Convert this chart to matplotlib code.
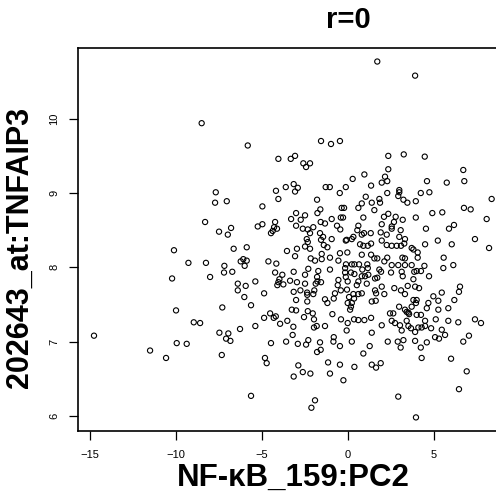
import matplotlib
matplotlib.use("Agg")
import matplotlib.pyplot as plt

# NF-kB_159:PC2 scores
pc2 = [
    1.70, 3.90, -8.51, -5.83, -1.57, -0.99, -0.47, -4.05, -3.33, -3.08,
    -2.60, -2.21, -2.44, 0.27, -7.69, -3.62, -3.16, -2.92, -3.08, -4.19,
    -1.30, -1.06, -0.48, -0.13, -7.73, -7.05, -4.05, -1.80, -4.98, -0.37,
    -0.23, -1.61, -1.78, -8.31, -3.02, -2.50, -3.31, -2.75, -0.42, -0.29,
    -4.24, -4.30, -4.38, -4.13, -4.48, -5.25, -4.98, -7.50, -6.99, -6.80,
    -1.59, -1.34, -0.95, -3.02, -2.63, -2.34, -2.02, -2.21, -1.63, -0.64,
    -0.45, -2.40, -2.34, -1.57, -0.95, -1.45, -0.13, 0.22,
    2.34, 3.24, 4.46, 6.70, 2.34, 0.95, 2.15, 1.96, 2.28, 4.59, 5.74, 6.76, 1.34,
    2.98, 2.98, 2.28, 4.23, 4.73, 2.92, 1.03, 3.22, 3.45, 3.94,
    8.35, 0.80, 0.60, 1.38, 1.82, 1.86, 1.53, 6.74, 7.13, 4.90,
    5.48, 2.34, 2.09, 2.77, 3.18, 0.89, 3.94, 8.06, 2.67, 1.96,
    0.60, 0.54, 2.54, 2.54, 4.53, 5.87, 6.16, 3.06, 0.93, 1.32,
    0.80, 1.90, 2.25, 2.98, 3.31, 0.31, -0.08, 1.96, 7.38, 4.48, 5.22, 6.03,
    -10.12, -9.28, -10.23, -10.00, -8.97, -8.60, -14.77, -9.96, -9.38,
    -6.65, -5.89, -3.55, -2.97, -2.50, -2.21, -1.41, -1.20,
    -8.26, -8.02, -7.19, -7.21, -6.73, -6.24, -6.09, -5.89, -6.01, -4.63,
    -4.17, -3.08, -2.17, -1.92, -1.53, -1.53, -1.05, -0.47, -0.04, -0.56,
    -0.12, -1.05, -1.73, -2.31, -3.16, -4.24, -3.82, -2.50, -1.80, -1.57,
    -3.99, -4.05, -3.76, -4.11, -3.37, -2.97, -2.50, -1.88, -1.78, -5.39,
    -6.41, -6.41, -5.95, -0.56, -0.13, 0.17, -0.60, -0.42, -0.06, -2.77,
    -3.16, -2.38, -2.37, -1.96, -2.02, -4.88, -6.03, -0.76, -0.83, -1.34,
    -1.20, 0.06, 0.35, 0.22, -3.02, -2.37, -5.64, -7.31, -3.27, -3.02,
    -2.34, -2.05, -2.56, -1.98, -0.91, 0.12, 0.35, -4.53, -4.88, -4.32,
    -4.20, -3.53, -3.95, -0.41, -0.02, -5.39, -3.18, -1.98, -1.82, -1.34,
    -6.28, -7.48, -6.96, -3.22, -7.09, -6.84, -0.83, -0.08, -4.48, -3.60,
    -2.92, -2.31, -1.63, -0.85, 0.22,
    0.70, 0.89, 1.15, 1.34, 2.25, 2.54, 2.83, 3.08, 3.27, 3.70, 3.80,
    8.20, 0.80, 1.34, 1.53, 1.70, 2.28, 3.16, 3.31, 4.05, 4.05, 5.56,
    0.22, 0.37, 0.64, 1.12, 2.11, 2.54, 2.92, 3.31, 3.70, 4.44, 5.54, 6.12,
    -0.17, 0.83, 1.15, 1.82, 1.92, 2.50, 3.12, 3.85, 3.99, 4.24, -0.17,
    0.37, 0.80, 0.99, 1.18, 1.57, 1.70, 3.18, 3.80, 4.71,
    -0.02, 0.60, 1.09, 0.51, 3.47, 3.90, 4.13, 1.96, 6.51,
    0.31, 0.60, 0.80, 1.57, 1.63, 2.11, 2.69, 3.08, 3.31, 6.45, 5.45,
    -0.02, 1.38, 1.61, 3.80, 3.99, 3.95, 4.96, 5.25, 4.67, 6.18, 0.17,
    2.97, 3.31, 3.51, 3.70, 4.58, 5.25, 5.83, 2.44, 2.63, 3.41, 3.55, 3.99, 4.24,
    0.60, 0.95, 1.34, 1.96, 2.54, 2.73, 3.41, 4.48, 5.10, 5.83, 6.41, 7.38, 7.73,
    3.02, 3.51, 3.66, 4.09, 4.28, 4.48, 4.83, 1.38, 3.12, 3.90, 5.45,
    2.31, 2.89, 3.22, 3.90, 4.58, 5.06, 5.29, 5.64, 6.70, 7.03,
    -11.51, -10.58, -7.34, -2.44, -1.80, -1.59, -0.47, -4.83, -4.73,
    -2.89, -3.16, -2.63, -2.19, -1.16, -0.47, 0.37, -1.05, -0.27, -5.64, -1.92, -2.13,
    1.26, 3.06, 4.23, 0.89, 1.38, 1.63, 1.90, 4.28, 5.99, 6.90, 6.45, 2.92, 3.95,
]

# 202643_at:TNFAIP3 expression
tnfaip3 = [
    10.77, 10.58, 9.94, 9.64, 9.70, 9.66, 9.70, 9.46, 9.46, 9.50,
    9.40, 9.40, 9.35, 9.19, 9.01, 9.08, 9.12, 9.07, 9.02, 9.03,
    9.08, 9.08, 9.00, 9.08, 8.87, 8.89, 8.92, 8.91, 8.82, 8.80,
    8.80, 8.78, 8.73, 8.61, 8.73, 8.70, 8.65, 8.64, 8.67, 8.67,
    8.61, 8.54, 8.49, 8.52, 8.46, 8.55, 8.58, 8.48, 8.44, 8.53,
    8.61, 8.59, 8.65, 8.56, 8.52, 8.51, 8.54, 8.46, 8.46, 8.56,
    8.51, 8.38, 8.34, 8.37, 8.38, 8.41, 8.36, 8.38,
    9.50, 9.52, 9.49, 9.31, 9.32, 9.25, 9.22, 9.14, 9.16, 9.16, 9.14, 9.16, 9.10,
    9.04, 9.01, 9.00, 9.00, 9.01, 8.96, 8.95, 8.91, 8.87, 8.89,
    8.92, 8.86, 8.80, 8.87, 8.92, 8.87, 8.77, 8.80, 8.78, 8.73,
    8.74, 8.72, 8.68, 8.68, 8.64, 8.67, 8.67, 8.65, 8.61, 8.58,
    8.56, 8.50, 8.55, 8.52, 8.52, 8.52, 8.57, 8.50, 8.46, 8.46,
    8.44, 8.47, 8.44, 8.41, 8.38, 8.41, 8.37, 8.36, 8.38, 8.31, 8.36, 8.31,
    8.23, 8.06, 7.85, 7.42, 7.26, 7.25, 7.08, 6.98, 6.97,
    8.25, 8.27, 8.22, 8.25, 8.28, 8.25, 8.30, 8.27,
    8.06, 7.87, 8.02, 7.93, 7.94, 8.08, 8.11, 8.09, 8.02, 8.08,
    8.05, 8.15, 8.12, 8.09, 8.18, 8.11, 8.13, 8.19, 8.20, 8.09,
    8.04, 7.97, 7.95, 7.98, 7.94, 7.93, 7.90, 7.90, 7.87, 7.80,
    7.84, 7.80, 7.77, 7.76, 7.82, 7.80, 7.78, 7.78, 7.81, 7.81,
    7.78, 7.69, 7.75, 7.83, 7.87, 7.93, 7.76, 7.69, 7.70, 7.69,
    7.67, 7.66, 7.63, 7.69, 7.64, 7.65, 7.60, 7.65, 7.58, 7.57,
    7.52, 7.60, 7.58, 7.52, 7.56, 7.54, 7.49, 7.46, 7.43, 7.42,
    7.41, 7.38, 7.33, 7.30, 7.37, 7.43, 7.30, 7.38, 7.32, 7.32,
    7.34, 7.28, 7.24, 7.30, 7.25, 7.21, 7.20, 7.19, 7.21, 7.21,
    7.17, 7.12, 7.11, 7.09, 7.04, 7.01, 7.06, 7.15, 6.98, 7.00,
    6.97, 7.02, 6.99, 7.00, 7.00,
    8.31, 8.29, 8.29, 8.32, 8.30, 8.29, 8.29, 8.29, 8.32, 8.26, 8.24,
    8.26, 8.17, 8.17, 8.12, 8.12, 8.13, 8.13, 8.12, 8.20, 8.13, 8.13,
    8.04, 8.04, 8.04, 8.04, 8.08, 8.03, 8.03, 8.03, 8.03, 8.02, 7.99, 8.03,
    7.99, 7.97, 7.99, 7.97, 7.94, 7.93, 7.94, 7.94, 7.95, 7.95, 7.93,
    7.91, 7.88, 7.88, 7.90, 7.85, 7.86, 7.88, 7.84, 7.88,
    7.81, 7.81, 7.78, 7.76, 7.75, 7.74, 7.72, 7.74, 7.74,
    7.64, 7.64, 7.65, 7.69, 7.65, 7.64, 7.72, 7.69, 7.64, 7.67, 7.66,
    7.52, 7.54, 7.55, 7.56, 7.56, 7.52, 7.61, 7.55, 7.52, 7.56, 7.47,
    7.47, 7.43, 7.39, 7.47, 7.45, 7.43, 7.45, 7.38, 7.38, 7.40, 7.37, 7.36, 7.36,
    7.29, 7.29, 7.32, 7.22, 7.28, 7.25, 7.28, 7.28, 7.30, 7.28, 7.26, 7.30, 7.25,
    7.22, 7.21, 7.18, 7.19, 7.19, 7.21, 7.18, 7.12, 7.15, 7.13, 7.16,
    7.00, 7.00, 7.02, 7.01, 6.99, 7.06, 7.04, 7.09, 7.00, 7.08,
    6.88, 6.78, 6.82, 6.96, 6.86, 6.89, 6.94, 6.78, 6.71,
    6.68, 6.53, 6.59, 6.57, 6.72, 6.69, 6.66, 6.57, 6.48, 6.27, 6.21, 6.11,
    6.94, 6.92, 6.92, 6.84, 6.69, 6.65, 6.71, 6.78, 6.77, 6.60, 6.36, 6.26, 5.98,
]

x_ticks = [-15, -10, -5, 0, 5]
y_ticks = [6, 7, 8, 9, 10]

plt.rcParams['font.family'] = ['Liberation Sans', 'DejaVu Sans']

W, H = 496, 497
fig = plt.figure(figsize=(W / 100, H / 100), dpi=100)

# plot box runs past the right edge of the picture, like the cropped original
ax = fig.add_axes([78 / W, 1 - 431 / H, (616 - 78) / W, (431 - 48) / H])
ax.scatter(pc2, tnfaip3, s=14, facecolors='none', edgecolors='black',
           linewidths=0.8)

ax.set_xlim(-15.70, 15.58)
ax.set_ylim(5.797, 10.952)
ax.set_xticks(x_ticks)
ax.set_yticks(y_ticks)
ax.set_yticklabels([str(v) for v in y_ticks], rotation=90, va='center')
ax.tick_params(direction='out', length=6.5, width=0.9, labelsize=8, pad=7)
for s in ax.spines.values():
    s.set_linewidth(1.2)

fig.text(348 / W, 1 - 20 / H, 'r=0', ha='center', va='center',
         fontsize=21, fontweight='bold')
fig.text(293 / W, 1 - 478 / H, 'NF-\u03baB_159:PC2', ha='center',
         va='center', fontsize=22.5, fontweight='bold')
fig.text(20 / W, 1 - 247 / H, '202643_at:TNFAIP3', ha='center',
         va='center', rotation=90, fontsize=22, fontweight='bold')

fig.savefig('out.png', dpi=100)
